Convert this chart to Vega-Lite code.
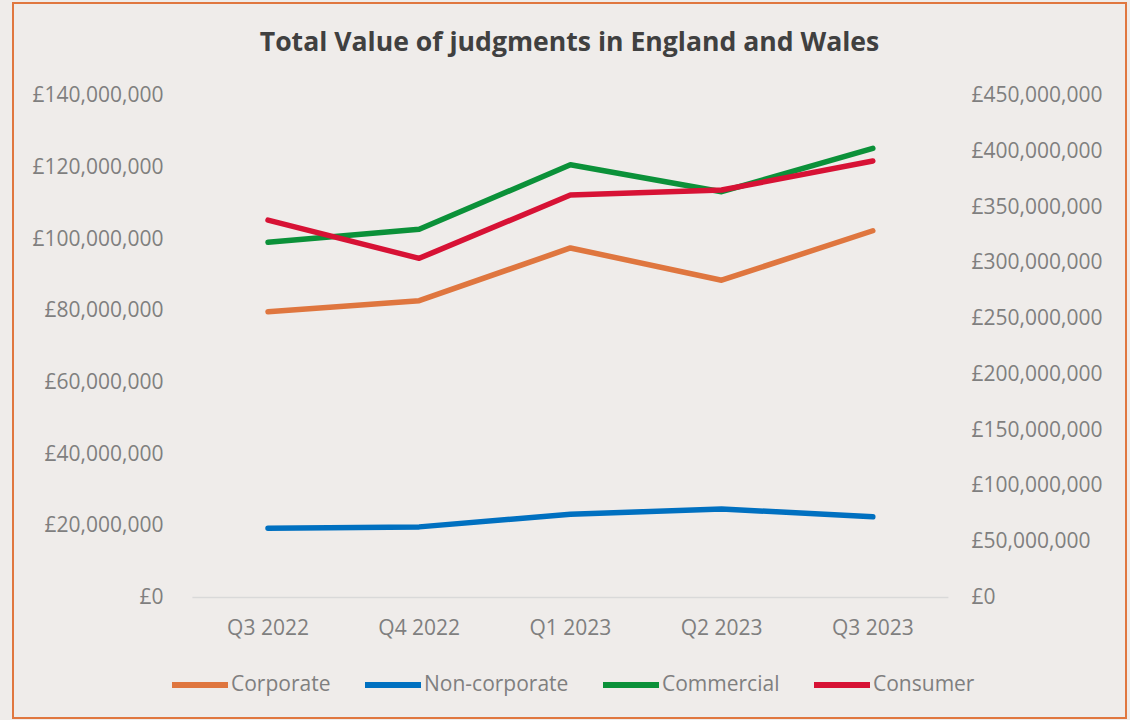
{
  "$schema": "https://vega.github.io/schema/vega-lite/v6.json",
  "width": 1113,
  "height": 715,
  "autosize": "none",
  "padding": {"left": 13, "top": 3, "right": 4, "bottom": 2},
  "background": "#EFECEA",
  "config": {
    "font": "Open Sans",
    "view": {"stroke": "#E0773F", "strokeWidth": 2, "fill": "#EFECEA"},
    "axis": {"labelFont": "Open Sans", "labelFontSize": 21, "labelColor": "#7F7F7F", "domain": false, "ticks": false, "tickSize": 0, "grid": false, "title": null}
  },
  "title": {
    "text": "Total Value of judgments in England and Wales",
    "fontSize": 26.6,
    "fontWeight": "bold",
    "color": "#404040",
    "anchor": "middle",
    "frame": "group",
    "baseline": "alphabetic",
    "offset": -75
  },
  "data": {
    "values": [
      {"quarter": "Q3 2022", "series": "Corporate", "side": "left", "value": 79700000},
      {"quarter": "Q4 2022", "series": "Corporate", "side": "left", "value": 82800000},
      {"quarter": "Q1 2023", "series": "Corporate", "side": "left", "value": 97500000},
      {"quarter": "Q2 2023", "series": "Corporate", "side": "left", "value": 88500000},
      {"quarter": "Q3 2023", "series": "Corporate", "side": "left", "value": 102300000},
      {"quarter": "Q3 2022", "series": "Non-corporate", "side": "left", "value": 19300000},
      {"quarter": "Q4 2022", "series": "Non-corporate", "side": "left", "value": 19700000},
      {"quarter": "Q1 2023", "series": "Non-corporate", "side": "left", "value": 23200000},
      {"quarter": "Q2 2023", "series": "Non-corporate", "side": "left", "value": 24700000},
      {"quarter": "Q3 2023", "series": "Non-corporate", "side": "left", "value": 22500000},
      {"quarter": "Q3 2022", "series": "Commercial", "side": "left", "value": 99100000},
      {"quarter": "Q4 2022", "series": "Commercial", "side": "left", "value": 102700000},
      {"quarter": "Q1 2023", "series": "Commercial", "side": "left", "value": 120700000},
      {"quarter": "Q2 2023", "series": "Commercial", "side": "left", "value": 113200000},
      {"quarter": "Q3 2023", "series": "Commercial", "side": "left", "value": 125300000},
      {"quarter": "Q3 2022", "series": "Consumer", "side": "right", "value": 338400000},
      {"quarter": "Q4 2022", "series": "Consumer", "side": "right", "value": 304100000},
      {"quarter": "Q1 2023", "series": "Consumer", "side": "right", "value": 360800000},
      {"quarter": "Q2 2023", "series": "Consumer", "side": "right", "value": 365300000},
      {"quarter": "Q3 2023", "series": "Consumer", "side": "right", "value": 391300000}
    ]
  },
  "layer": [
    {
      "data": {"values": [{"from": "Q3 2022", "to": "Q3 2023", "base": 0}]},
      "mark": {"type": "rule", "color": "#D9D9D9", "strokeWidth": 1.5},
      "encoding": {
        "x": {"field": "from", "type": "nominal", "bandPosition": 0,
              "scale": {"type": "band", "domain": ["Q3 2022", "Q4 2022", "Q1 2023", "Q2 2023", "Q3 2023"], "paddingInner": 0, "paddingOuter": 0, "range": [179.4, 935.4]},
              "axis": {"orient": "bottom", "offset": -101, "labelPadding": 0, "labelAngle": 0, "title": null}},
        "x2": {"field": "to", "bandPosition": 1},
        "y": {"field": "base", "type": "quantitative", "scale": {"domain": [-33610000, 165830000], "nice": false, "zero": false}, "axis": null}
      }
    },
    {
      "transform": [{"filter": "datum.side === 'left'"}],
      "mark": {"type": "line", "strokeWidth": 5.5, "strokeCap": "round", "strokeJoin": "round"},
      "encoding": {
        "x": {"field": "quarter", "type": "nominal", "bandPosition": 0.5},
        "y": {"field": "value", "type": "quantitative",
              "scale": {"domain": [-33610000, 165830000], "nice": false, "zero": false},
              "axis": {"orient": "left", "offset": -150, "labelPadding": 0, "values": [0, 20000000, 40000000, 60000000, 80000000, 100000000, 120000000, 140000000], "labelExpr": "'£' + format(datum.value, ',')"}},
        "color": {"field": "series", "type": "nominal",
                  "scale": {"domain": ["Corporate", "Non-corporate", "Commercial", "Consumer"], "range": ["#DF763F", "#0070C0", "#0B9139", "#D71235"]},
                  "legend": {"title": null, "orient": "none", "direction": "horizontal", "legendX": 156, "legendY": 651, "symbolType": "stroke", "symbolSize": 3136, "symbolStrokeWidth": 6, "labelFontSize": 21, "labelColor": "#7F7F7F", "labelFont": "Open Sans", "labelOffset": 0, "columnPadding": 22, "padding": 0}}
      }
    },
    {
      "transform": [{"filter": "datum.side === 'right'"}],
      "mark": {"type": "line", "strokeWidth": 5.5, "strokeCap": "round", "strokeJoin": "round"},
      "encoding": {
        "x": {"field": "quarter", "type": "nominal", "bandPosition": 0.5},
        "y": {"field": "value", "type": "quantitative",
              "scale": {"domain": [-108000000, 533000000], "nice": false, "zero": false},
              "axis": {"orient": "right", "offset": -155, "labelPadding": 0, "values": [0, 50000000, 100000000, 150000000, 200000000, 250000000, 300000000, 350000000, 400000000, 450000000], "labelExpr": "'£' + format(datum.value, ',')"}},
        "color": {"field": "series", "type": "nominal"}
      }
    }
  ],
  "resolve": {"scale": {"y": "independent"}}
}
